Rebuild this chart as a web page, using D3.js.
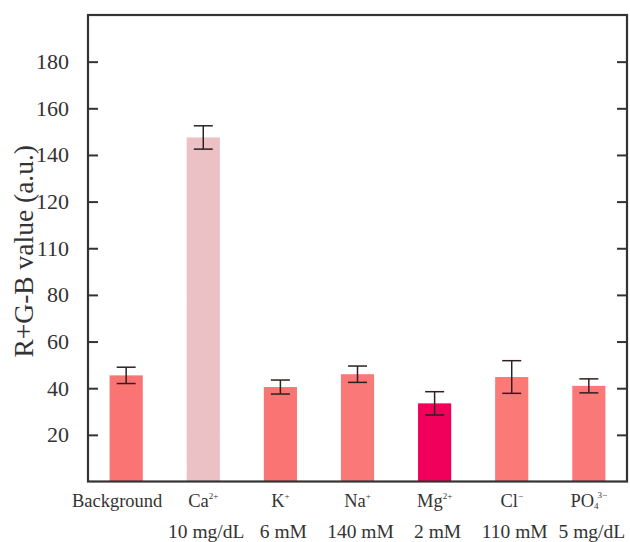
<!DOCTYPE html>
<html>
<head>
<meta charset="utf-8">
<script src="https://cdn.jsdelivr.net/npm/d3@7/dist/d3.min.js"></script>
<style>
  html, body { margin: 0; padding: 0; background: #fff; }
  svg { display: block; font-family: "Liberation Serif", "Times New Roman", serif; }
</style>
</head>
<body>
<svg id="chart" width="630" height="542"></svg>
<script>
// Ion names, split into base text, subscript and superscript parts
const ionBase = ["Background", "Ca", "K", "Na", "Mg", "Cl", "PO"];
const ionSub = ["", "", "", "", "", "", "4"];
const ionSup = ["", "2+", "+", "+", "2+", "\u2212", "3\u2212"];
const concentrations = ["", "10 mg/dL", "6 mM", "140 mM", "2 mM", "110 mM", "5 mg/dL"];

// Mean R+G-B value and error for each sample
const means = [45.5, 147.5, 40.5, 46, 33.5, 44.8, 41];
const errors = [3.5, 5, 3, 3.5, 5, 7, 3];
const barColors = ["#fb7474", "#eec4c8", "#fb7474", "#fb7878", "#f0005a", "#fb7a78", "#fb7878"];

// Y axis tick positions and the labels printed next to them
const tickValues = [20, 40, 60, 80, 100, 120, 140, 160, 180];
const tickLabels = ["20", "40", "60", "80", "110", "120", "140", "160", "180"];

const svg = d3.select("#chart");
const plot = { left: 88, right: 627, top: 15, bottom: 481.5 };
const axisColor = "#333";

const x = d3.scaleBand().domain(d3.range(ionBase.length)).range([plot.left, plot.right]).paddingInner(0.57).paddingOuter(0.28);
const y = d3.scaleLinear().domain([0, 200]).range([plot.bottom, plot.top]);

// grain texture for the calcium bar
const defs = svg.append("defs");
const grain = defs.append("filter").attr("id", "grain").attr("x", 0).attr("y", 0).attr("width", 1).attr("height", 1);
grain.append("feTurbulence").attr("type", "fractalNoise").attr("baseFrequency", 0.9).attr("numOctaves", 2).attr("seed", 3).attr("result", "noise");
grain.append("feColorMatrix").attr("in", "noise").attr("type", "matrix")
  .attr("values", "0 0 0 0 0.55  0 0 0 0 0.3  0 0 0 0 0.32  0 0 0 0.14 0").attr("result", "dots");
grain.append("feComposite").attr("in", "dots").attr("in2", "SourceGraphic").attr("operator", "in").attr("result", "dotsIn");
grain.append("feMerge").selectAll("feMergeNode").data(["SourceGraphic", "dotsIn"]).join("feMergeNode").attr("in", d => d);

// Bars
svg.append("g").selectAll("rect").data(means).join("rect")
  .attr("x", (d, i) => x(i))
  .attr("width", x.bandwidth())
  .attr("y", d => y(d))
  .attr("height", d => y(0) - y(d))
  .attr("fill", (d, i) => barColors[i])
  .attr("filter", (d, i) => i === 1 ? "url(#grain)" : null);

// Error bars
const eb = svg.append("g").attr("stroke", "#2e2020").attr("stroke-width", 1.5).attr("fill", "none");
means.forEach((m, i) => {
  const cx = x(i) + x.bandwidth() / 2;
  const hw = 9.5;
  eb.append("line").attr("x1", cx).attr("x2", cx).attr("y1", y(m - errors[i])).attr("y2", y(m + errors[i]));
  eb.append("line").attr("x1", cx - hw).attr("x2", cx + hw).attr("y1", y(m + errors[i])).attr("y2", y(m + errors[i]));
  eb.append("line").attr("x1", cx - hw).attr("x2", cx + hw).attr("y1", y(m - errors[i])).attr("y2", y(m - errors[i]));
});

// Left axis with inward ticks
const yAxisLeft = d3.axisLeft(y).tickValues(tickValues).tickSize(-10).tickPadding(19)
  .tickFormat((d, i) => tickLabels[i]);
const gl = svg.append("g").attr("transform", `translate(${plot.left},0)`).call(yAxisLeft);
gl.select(".domain").remove();
gl.selectAll(".tick line").attr("stroke", axisColor).attr("stroke-width", 2);
gl.selectAll(".tick text").attr("font-size", 22).attr("fill", "#333")
  .attr("font-family", "Liberation Serif, serif");

// Right axis with inward ticks, no labels
const yAxisRight = d3.axisRight(y).tickValues(tickValues).tickSize(-10).tickFormat("");
const gr = svg.append("g").attr("transform", `translate(${plot.right},0)`).call(yAxisRight);
gr.select(".domain").remove();
gr.selectAll(".tick line").attr("stroke", axisColor).attr("stroke-width", 2);

// Frame
svg.append("rect").attr("x", plot.left).attr("y", plot.top)
  .attr("width", plot.right - plot.left).attr("height", plot.bottom - plot.top)
  .attr("fill", "none").attr("stroke", axisColor).attr("stroke-width", 2.2);

// Category labels
const labels = svg.append("g").attr("fill", "#333").attr("font-size", 18.5).attr("text-anchor", "middle");
ionBase.forEach((name, i) => {
  const cx = x(i) + x.bandwidth() / 2;
  const t = labels.append("text").attr("x", cx - (i === 0 ? 9 : 0)).attr("y", 507);
  t.append("tspan").text(name);
  if (ionSub[i]) t.append("tspan").attr("font-size", 9).attr("dy", 2).text(ionSub[i]);
  if (ionSup[i]) t.append("tspan").attr("font-size", 9).attr("dx", ionSub[i] ? -1 : 0).attr("dy", ionSub[i] ? -11 : -8).text(ionSup[i]);
  if (concentrations[i]) {
    labels.append("text").attr("x", cx + 3).attr("y", 538).attr("font-size", 19.5).text(concentrations[i]);
  }
});

// Y axis title
svg.append("text")
  .attr("transform", `translate(33,${(plot.top + plot.bottom) / 2 + 3}) rotate(-90)`)
  .attr("text-anchor", "middle").attr("font-size", 27.5).attr("fill", "#333")
  .text("R+G-B value (a.u.)");
</script>
</body>
</html>
